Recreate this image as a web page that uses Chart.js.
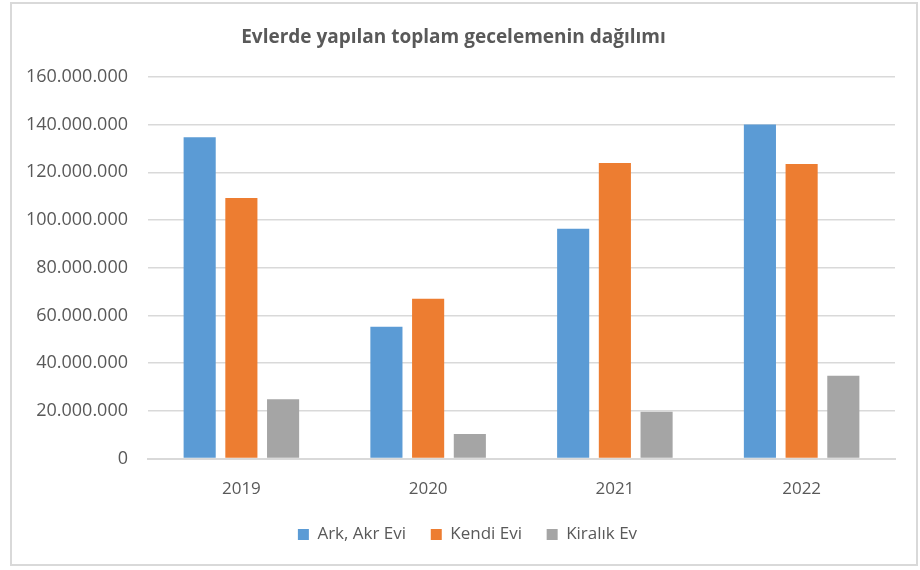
<!DOCTYPE html>
<html>
<head>
<meta charset="utf-8">
<script src="https://cdn.jsdelivr.net/npm/chart.js@4"></script>
<style>
  html, body { margin: 0; padding: 0; background: #ffffff; }
  #wrap { position: absolute; left: 0; top: 0; width: 920px; height: 570px; }
</style>
</head>
<body>
<div id="wrap"><canvas id="chart" width="920" height="570"></canvas></div>
<script>
// veriler
const years = ['2019', '2020', '2021', '2022'];
const arkAkrEvi = [134700000, 55300000, 96300000, 140000000];
const kendiEvi = [109200000, 67000000, 123900000, 123500000];
const kiralikEv = [24900000, 10300000, 19600000, 34700000];

const textColor = '#595959';
const gridColor = '#d9d9d9';

// grafik kutusunun çerçevesi
const frameBorder = {
  id: 'frameBorder',
  beforeDraw(chart) {
    const ctx = chart.ctx;
    ctx.save();
    ctx.fillStyle = '#ffffff';
    ctx.fillRect(0, 0, chart.width, chart.height);
    ctx.strokeStyle = '#d9d9d9';
    ctx.lineWidth = 2;
    ctx.strokeRect(11, 3, 906, 562);
    ctx.restore();
  }
};

// lejantı biraz sağa kaydır (Excel'deki gibi)
const legendShift = {
  id: 'legendShift',
  afterLayout(chart) {
    chart.legend.left += 14;
    chart.legend.right += 14;
  }
};

Chart.defaults.font.family = "'Open Sans', sans-serif";
Chart.defaults.color = textColor;

new Chart(document.getElementById('chart').getContext('2d'), {
  type: 'bar',
  data: {
    labels: years,
    datasets: [
      { label: 'Ark, Akr Evi', data: arkAkrEvi, backgroundColor: '#5b9bd5' },
      { label: 'Kendi Evi', data: kendiEvi, backgroundColor: '#ed7d31' },
      { label: 'Kiralık Ev', data: kiralikEv, backgroundColor: '#a5a5a5' }
    ]
  },
  options: {
    responsive: false,
    animation: false,
    categoryPercentage: 0.67,
    barPercentage: 0.77,
    layout: { padding: { left: 12, right: 25, top: 26, bottom: 17 } },
    plugins: {
      title: {
        display: true,
        text: 'Evlerde yapılan toplam gecelemenin dağılımı',
        color: textColor,
        font: { size: 19, weight: 'bold' },
        padding: { top: 0, bottom: 28 }
      },
      legend: {
        position: 'bottom',
        labels: {
          boxWidth: 11,
          boxHeight: 11,
          padding: 7,
          color: textColor,
          font: { size: 17 },
          generateLabels: (chart) => Chart.defaults.plugins.legend.labels.generateLabels(chart)
            .map((l, i, all) => Object.assign(l, { text: i < all.length - 1 ? l.text + '    ' : l.text }))
        }
      },
      tooltip: { enabled: false }
    },
    scales: {
      x: {
        grid: { display: false, drawTicks: false },
        border: { color: gridColor, width: 2 },
        ticks: { font: { size: 17 }, padding: 20 }
      },
      y: {
        min: 0,
        max: 160000000,
        grid: { color: gridColor, lineWidth: 1.5, drawTicks: false },
        border: { display: false },
        afterFit: (s) => { s.width = 136; },
        ticks: {
          stepSize: 20000000,
          padding: 20,
          font: { size: 18 },
          callback: (v) => v.toLocaleString('de-DE')
        }
      }
    }
  },
  plugins: [frameBorder, legendShift]
});
</script>
</body>
</html>
